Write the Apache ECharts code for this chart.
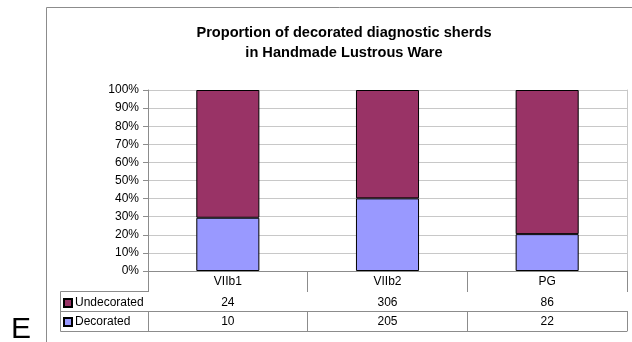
<!DOCTYPE html>
<html>
<head>
<meta charset="utf-8">
<script src="https://cdn.jsdelivr.net/npm/echarts@6/dist/echarts.min.js"></script>
<style>
  html, body { margin: 0; padding: 0; background: #fff; }
  #chart { width: 632px; height: 342px; }
</style>
</head>
<body>
<div id="chart"></div>
<script>
// Sherd counts per phase
const categories = ['VIIb1', 'VIIb2', 'PG'];
const undecorated = [24, 306, 86];
const decorated = [10, 205, 22];
const seriesNames = ['Undecorated', 'Decorated'];
const yTicks = [0, 10, 20, 30, 40, 50, 60, 70, 80, 90, 100];

// Share of each phase's total, in percent (100% stacked columns)
const totals = categories.map((_, i) => undecorated[i] + decorated[i]);
const decoratedPct = decorated.map((v, i) => v / totals[i] * 100);
const undecoratedPct = undecorated.map((v, i) => v / totals[i] * 100);

const FONT = 'Liberation Sans, Arial, sans-serif';
const LINE = '#8c8c8c';

const chart = echarts.init(document.getElementById('chart'), null, { renderer: 'canvas' });

// One x axis per table row: header with phases, then one row of counts per series
function tableAxis(offset, formatter, tickLen, showLabel) {
  return {
    type: 'category',
    data: categories,
    position: 'bottom',
    offset: offset,
    boundaryGap: true,
    axisLine: { show: true, lineStyle: { color: LINE, width: 1 } },
    axisTick: { show: tickLen > 0, interval: 0, length: tickLen, lineStyle: { color: LINE } },
    axisLabel: {
      show: showLabel, interval: 0, margin: 5,
      color: '#000', fontFamily: FONT, fontSize: 12,
      formatter: formatter
    },
    splitLine: { show: false }
  };
}

chart.setOption({
  animation: false,
  backgroundColor: '#fff',
  title: {
    text: 'Proportion of decorated diagnostic sherds\nin Handmade Lustrous Ware',
    left: 344,
    top: 23,
    padding: 0,
    textAlign: 'center',
    textStyle: { fontFamily: FONT, fontSize: 14.6, fontWeight: 'bold', color: '#000', lineHeight: 20 }
  },
  legend: {
    data: seriesNames,
    orient: 'vertical',
    left: 63,
    top: 297,
    padding: 0,
    itemWidth: 8,
    itemHeight: 8,
    itemGap: 7,
    icon: 'rect',
    textStyle: { fontFamily: FONT, fontSize: 12, color: '#000', padding: [0, 0, 0, -2] },
    selectedMode: false
  },
  grid: { left: 148, right: 5, top: 90, bottom: 71, containLabel: false },
  xAxis: [
    tableAxis(0, (v) => v, 21, true),
    tableAxis(21, (v, i) => String(undecorated[i]), 19, true),
    tableAxis(40, (v, i) => String(decorated[i]), 20, true),
    tableAxis(60, (v) => '', 0, false)
  ],
  yAxis: [
    {
      type: 'value',
      min: yTicks[0],
      max: yTicks[yTicks.length - 1],
      interval: yTicks[1] - yTicks[0],
      axisLine: { show: true, lineStyle: { color: LINE } },
      axisTick: { show: true, length: 5, lineStyle: { color: LINE } },
      axisLabel: { formatter: '{value}%', color: '#000', fontFamily: FONT, fontSize: 12, margin: 9 },
      splitLine: { show: true, lineStyle: { color: '#c8c8c8', width: 1 } }
    },
    {
      type: 'value',
      position: 'right',
      min: yTicks[0],
      max: yTicks[yTicks.length - 1],
      axisLine: { show: true, lineStyle: { color: '#c8c8c8' } },
      axisTick: { show: false },
      axisLabel: { show: false },
      splitLine: { show: false }
    }
  ],
  series: [
    {
      name: 'Decorated',
      type: 'bar',
      stack: 'share',
      barWidth: '39.5%',
      data: decoratedPct,
      itemStyle: { color: '#9999FF', borderColor: '#000', borderWidth: 1 }
    },
    {
      name: 'Undecorated',
      type: 'bar',
      stack: 'share',
      barWidth: '39.5%',
      data: undecoratedPct,
      itemStyle: { color: '#993366', borderColor: '#000', borderWidth: 1 }
    }
  ],
  graphic: [
    // chart area frame
    { type: 'rect', shape: { x: 46.5, y: 7.5, width: 700, height: 400 }, style: { fill: 'none', stroke: LINE, lineWidth: 1 }, silent: true },
    // series-name column of the data table
    { type: 'line', shape: { x1: 60.5, y1: 291.5, x2: 148, y2: 291.5 }, style: { stroke: LINE, lineWidth: 1 } },
    { type: 'line', shape: { x1: 60.5, y1: 311.5, x2: 148, y2: 311.5 }, style: { stroke: LINE, lineWidth: 1 } },
    { type: 'line', shape: { x1: 60.5, y1: 331.5, x2: 148, y2: 331.5 }, style: { stroke: LINE, lineWidth: 1 } },
    { type: 'line', shape: { x1: 60.5, y1: 291.5, x2: 60.5, y2: 331.5 }, style: { stroke: LINE, lineWidth: 1 } },
    // panel letter
    { type: 'text', left: 11, top: 315, style: { text: 'E', fontFamily: FONT, fontSize: 30, fill: '#000' } }
  ]
});
</script>
</body>
</html>
